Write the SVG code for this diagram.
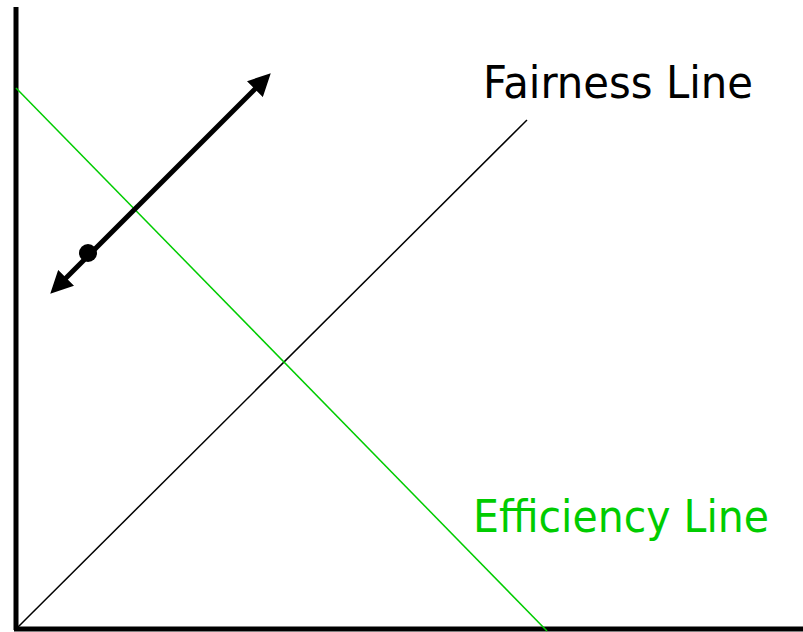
<svg xmlns="http://www.w3.org/2000/svg" width="803" height="632" viewBox="0 0 803 632">
<style>
.axis{stroke:#000;stroke-width:5;fill:none}
.lbl{font-family:"DejaVu Sans","Liberation Sans",sans-serif;font-size:45px}
</style>
<defs>
<marker id="ah" viewBox="0 0 10 10" refX="7" refY="5" markerWidth="4.5" markerHeight="4.5" orient="auto-start-reverse" markerUnits="strokeWidth">
<path d="M0,0 L10,5 L0,10 Z" fill="#000"/>
</marker>
</defs>
<rect width="803" height="632" fill="#fff"/>
<g id="axes">
<line class="axis" x1="16" y1="7" x2="16" y2="630"/>
<line class="axis" x1="14" y1="629" x2="803" y2="629"/>
</g>
<g id="connectors">
<line id="fairness" x1="16" y1="629" x2="527" y2="120" stroke="#000" stroke-width="1.5"/>
<line id="efficiency" x1="16" y1="88" x2="547" y2="631" stroke="#00cc00" stroke-width="1.5"/>
<line id="move" x1="55" y1="289" x2="266" y2="78" stroke="#000" stroke-width="5" marker-start="url(#ah)" marker-end="url(#ah)"/>
</g>
<g id="point"><circle cx="88" cy="253" r="9" fill="#000"/></g>
<g id="labels">
<text class="lbl" x="483" y="98" textLength="270" lengthAdjust="spacingAndGlyphs" fill="#000">Fairness Line</text>
<text class="lbl" x="473" y="532" textLength="296" lengthAdjust="spacingAndGlyphs" fill="#00cc00">Efficiency Line</text>
</g>
</svg>
